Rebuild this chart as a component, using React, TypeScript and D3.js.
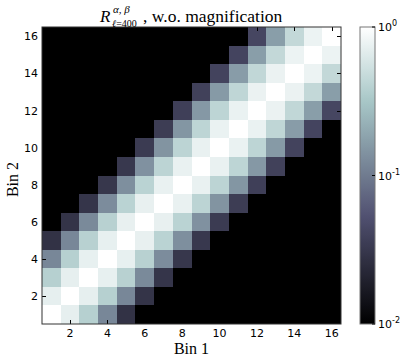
import React, { useEffect, useRef } from "react";
import * as d3 from "d3";

// bin numbers on both axes
const bins = [1, 2, 3, 4, 5, 6, 7, 8, 9, 10, 11, 12, 13, 14, 15, 16];
// correlation along each off-diagonal (offset |i-j|)
const diag0 = [1, 1, 1, 1, 1, 1, 1, 1, 1, 1, 1, 1, 1, 1, 1, 1];
const diag1 = [0.72, 0.72, 0.73, 0.73, 0.74, 0.74, 0.75, 0.75, 0.75, 0.76, 0.76, 0.77, 0.77, 0.78, 0.78];
const diag2 = [0.38, 0.38, 0.39, 0.39, 0.4, 0.4, 0.41, 0.41, 0.42, 0.42, 0.43, 0.44, 0.45, 0.45];
const diag3 = [0.12, 0.12, 0.125, 0.13, 0.135, 0.14, 0.145, 0.15, 0.155, 0.16, 0.165, 0.17, 0.17];
const diag4 = [0.028, 0.029, 0.03, 0.031, 0.032, 0.034, 0.035, 0.037, 0.038, 0.04, 0.041, 0.042];
const farValue = 0.004; // everything further off the diagonal is below the colour range
const xTicks = [2, 4, 6, 8, 10, 12, 14, 16];
const yTicks = [2, 4, 6, 8, 10, 12, 14, 16];
const cbarTicks = [1e-2, 1e-1, 1e0];
const cbarLabels = ["-2", "-1", "0"];

const diags = [diag0, diag1, diag2, diag3, diag4];

// matplotlib "bone"
const boneR = d3.scaleLinear().domain([0, 0.746032, 1]).range([0, 0.652778, 1]).clamp(true);
const boneG = d3.scaleLinear().domain([0, 0.365079, 0.746032, 1]).range([0, 0.319444, 0.777778, 1]).clamp(true);
const boneB = d3.scaleLinear().domain([0, 0.365079, 1]).range([0, 0.444444, 1]).clamp(true);
const bone = (t: number) =>
  d3.rgb(boneR(t) * 255, boneG(t) * 255, boneB(t) * 255).formatHex();

export default function App() {
  const ref = useRef<HTMLDivElement>(null);

  useEffect(() => {
    document.body.style.margin = "0";
    const width = 407;
    const height = 364;
    const left = 42, right = 341, top = 27, bottom = 324;
    const cbLeft = 360, cbRight = 375;

    d3.select(ref.current).selectAll("*").remove();
    const svg = d3
      .select(ref.current)
      .append("svg")
      .attr("width", width)
      .attr("height", height)
      .style("display", "block");

    const xScale = d3.scaleLinear().domain([0.5, 16.5]).range([left, right]);
    const yScale = d3.scaleLinear().domain([0.5, 16.5]).range([bottom, top]);
    const logScale = d3.scaleLog().domain([1e-2, 1]).range([0, 1]).clamp(true);
    const color = (v: number) => bone(logScale(v));

    const cells: { i: number; j: number; v: number }[] = [];
    bins.forEach((i) => {
      bins.forEach((j) => {
        const k = Math.abs(i - j);
        const v = k < diags.length ? diags[k][Math.min(i, j) - 1] : farValue;
        cells.push({ i, j, v });
      });
    });

    svg
      .append("g")
      .selectAll("rect")
      .data(cells)
      .enter()
      .append("rect")
      .attr("x", (d) => xScale(d.i - 0.5))
      .attr("y", (d) => yScale(d.j + 0.5))
      .attr("width", (d) => xScale(d.i + 0.5) - xScale(d.i - 0.5))
      .attr("height", (d) => yScale(d.j - 0.5) - yScale(d.j + 0.5))
      .attr("fill", (d) => color(d.v))
      .attr("shape-rendering", "crispEdges");

    // inward ticks on all sides
    const ticks = svg.append("g").attr("stroke", "#000").attr("stroke-width", 1);
    xTicks.forEach((t) => {
      const x = Math.round(xScale(t)) + 0.5;
      ticks.append("line").attr("x1", x).attr("x2", x).attr("y1", bottom).attr("y2", bottom - 4);
      ticks.append("line").attr("x1", x).attr("x2", x).attr("y1", top).attr("y2", top + 4);
    });
    yTicks.forEach((t) => {
      const y = Math.round(yScale(t)) + 0.5;
      ticks.append("line").attr("x1", left).attr("x2", left + 4).attr("y1", y).attr("y2", y);
      ticks.append("line").attr("x1", right).attr("x2", right - 4).attr("y1", y).attr("y2", y);
    });

    svg
      .append("rect")
      .attr("x", left)
      .attr("y", top)
      .attr("width", right - left)
      .attr("height", bottom - top)
      .attr("fill", "none")
      .attr("stroke", "#333")
      .attr("stroke-width", 1);

    const sans = "'DejaVu Sans', sans-serif";
    const serif = "'Liberation Serif', 'Times New Roman', serif";

    svg
      .append("g")
      .selectAll("text")
      .data(xTicks)
      .enter()
      .append("text")
      .attr("x", (d) => xScale(d))
      .attr("y", bottom + 13)
      .attr("text-anchor", "middle")
      .attr("font-family", sans)
      .attr("font-size", 11)
      .text((d) => d);

    svg
      .append("g")
      .selectAll("text")
      .data(yTicks)
      .enter()
      .append("text")
      .attr("x", left - 4)
      .attr("y", (d) => yScale(d) + 4)
      .attr("text-anchor", "end")
      .attr("font-family", sans)
      .attr("font-size", 11)
      .text((d) => d);

    svg
      .append("text")
      .attr("x", (left + right) / 2)
      .attr("y", 354)
      .attr("text-anchor", "middle")
      .attr("font-family", serif)
      .attr("font-size", 16)
      .text("Bin 1");

    svg
      .append("text")
      .attr("transform", `translate(18,${(top + bottom) / 2 + 4}) rotate(-90)`)
      .attr("text-anchor", "middle")
      .attr("font-family", serif)
      .attr("font-size", 16)
      .text("Bin 2");

    // title
    const title = svg.append("g");
    title.append("text").attr("x", 100).attr("y", 22).attr("font-family", serif)
      .attr("font-size", 17).attr("font-style", "italic").text("R");
    title.append("text").attr("x", 113).attr("y", 13).attr("font-family", serif)
      .attr("font-size", 11).attr("font-style", "italic").text("α, β");
    title.append("text").attr("x", 112).attr("y", 27).attr("font-family", serif).attr("font-size", 10)
      .html('<tspan font-style="italic">ℓ</tspan>=400');
    title.append("text").attr("x", 143).attr("y", 22).attr("font-family", serif)
      .attr("font-size", 17.5).text(",  w.o. magnification");

    // colorbar
    const cbScale = d3.scaleLog().domain([1e-2, 1]).range([bottom, top]);
    const grad = svg
      .append("defs")
      .append("linearGradient")
      .attr("id", "bone")
      .attr("x1", 0).attr("x2", 0).attr("y1", 1).attr("y2", 0);
    d3.range(0, 1.0001, 0.02).forEach((t) => {
      grad.append("stop").attr("offset", t).attr("stop-color", bone(t));
    });
    svg
      .append("rect")
      .attr("x", cbLeft)
      .attr("y", top)
      .attr("width", cbRight - cbLeft)
      .attr("height", bottom - top)
      .attr("fill", "url(#bone)")
      .attr("stroke", "#777")
      .attr("stroke-width", 1);

    cbarTicks.forEach((t, k) => {
      const y = cbScale(t);
      svg.append("line").attr("x1", cbRight).attr("x2", cbRight - 3).attr("y1", y).attr("y2", y)
        .attr("stroke", "#000");
      const label = svg
        .append("text")
        .attr("x", cbRight + 3)
        .attr("y", y + 4)
        .attr("font-family", sans)
        .attr("font-size", 11);
      label.append("tspan").text("10");
      label.append("tspan").attr("dy", -5).attr("font-size", 8).text(cbarLabels[k]);
    });
  }, []);

  return <div ref={ref} />;
}
